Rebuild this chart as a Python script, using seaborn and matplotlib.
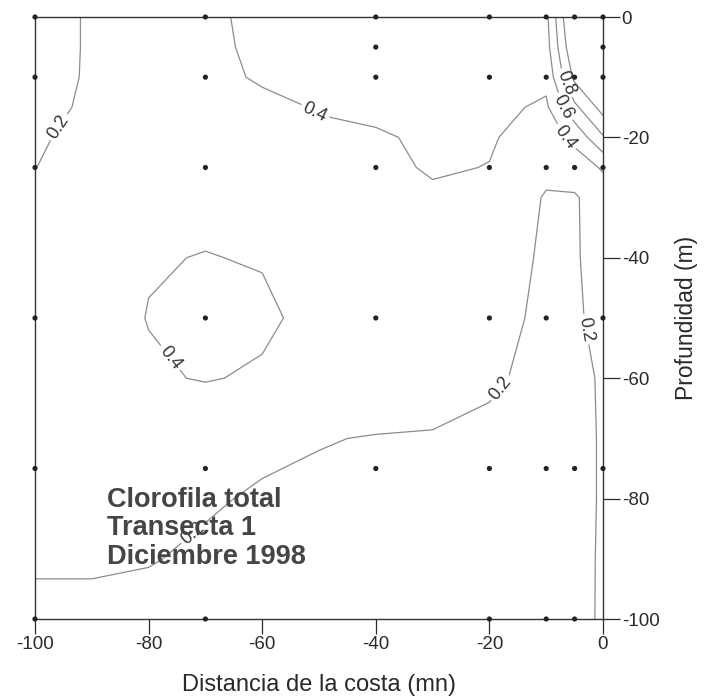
import numpy as np
import pandas as pd
import matplotlib
matplotlib.use("Agg")
import matplotlib.pyplot as plt
import seaborn as sns

# grid nodes used for the contouring (distance from coast in mn, depth in m)
grid_dist = [-100, -90, -80, -70, -60, -50, -40, -30, -20, -10, -5, 0]
grid_depth = [0, -5, -10, -15, -20, -25, -30, -40, -50, -60, -70, -80, -90, -100]

# total chlorophyll, one row per depth, columns follow grid_dist
chl = [
    [0.12, 0.22, 0.28, 0.36, 0.45, 0.50, 0.55, 0.55, 0.50, 0.55, 1.30, 1.20],    # 0 m
    [0.12, 0.22, 0.28, 0.355, 0.44, 0.49, 0.54, 0.55, 0.50, 0.52, 1.20, 1.15],   # 5 m
    [0.13, 0.22, 0.28, 0.35, 0.42, 0.46, 0.50, 0.52, 0.48, 0.45, 1.05, 1.10],    # 10 m
    [0.15, 0.227, 0.29, 0.33, 0.36, 0.41, 0.44, 0.48, 0.45, 0.37, 0.75, 1.08],   # 15 m
    [0.18, 0.247, 0.30, 0.32, 0.34, 0.37, 0.38, 0.43, 0.42, 0.30, 0.45, 0.78],   # 20 m
    [0.198, 0.26, 0.31, 0.33, 0.34, 0.35, 0.35, 0.42, 0.395, 0.23, 0.30, 0.42],  # 25 m
    [0.23, 0.28, 0.33, 0.36, 0.35, 0.35, 0.33, 0.37, 0.30, 0.19, 0.18, 0.30],    # 30 m
    [0.27, 0.31, 0.39, 0.405, 0.39, 0.35, 0.33, 0.32, 0.27, 0.18, 0.18, 0.28],   # 40 m
    [0.30, 0.33, 0.405, 0.46, 0.43, 0.35, 0.32, 0.30, 0.25, 0.17, 0.17, 0.26],   # 50 m
    [0.30, 0.32, 0.38, 0.41, 0.38, 0.30, 0.27, 0.26, 0.22, 0.16, 0.15, 0.22],    # 60 m
    [0.27, 0.28, 0.30, 0.26, 0.22, 0.205, 0.195, 0.19, 0.17, 0.12, 0.10, 0.23],  # 70 m
    [0.24, 0.24, 0.24, 0.21, 0.19, 0.18, 0.17, 0.17, 0.16, 0.12, 0.10, 0.23],    # 80 m
    [0.21, 0.21, 0.205, 0.185, 0.18, 0.17, 0.16, 0.16, 0.16, 0.12, 0.12, 0.23],  # 90 m
    [0.18, 0.18, 0.17, 0.16, 0.17, 0.16, 0.15, 0.15, 0.16, 0.12, 0.15, 0.22],    # 100 m
]
levels = [0.2, 0.4, 0.6, 0.8, 1.0]

# sampling stations
station_dist = [-100, -70, -40, -20, -10, -5, 0]
station_depths = [
    [0, -10, -25, -50, -75, -100],
    [0, -10, -25, -50, -75, -100],
    [0, -5, -10, -25, -50, -75],
    [0, -10, -25, -50, -75, -100],
    [0, -10, -25, -50, -75, -100],
    [0, -10, -25, -75, -100],
    [0, -5, -10, -25, -50, -75],
]

x_ticks = [-100, -80, -60, -40, -20, 0]
y_ticks = [0, -20, -40, -60, -80, -100]

# where the contour labels sit
label_spots = [(-94.7, -19), (-50.5, -15.5), (-76, -56.5), (-71.5, -86.5),
               (-17.5, -62), (-3.8, -52), (-6.6, -11), (-7.0, -15), (-6.7, -20)]

sns.set_theme(style="white")
plt.rcParams["font.family"] = ["Liberation Sans", "DejaVu Sans"]
plt.rcParams["axes.unicode_minus"] = False

stations = pd.DataFrame(
    [(d, z) for d, zs in zip(station_dist, station_depths) for z in zs],
    columns=["dist", "depth"],
)

fig = plt.figure(figsize=(7.16, 6.98), dpi=100)
ax = fig.add_axes([35 / 716, 1 - 619 / 698, 568 / 716, 602 / 698])

cs = ax.contour(grid_dist, grid_depth, np.array(chl), levels=levels,
                colors="#8c8c8c", linewidths=0.9)
ax.clabel(cs, fmt="%.1f", fontsize=13, colors="#333333",
          manual=label_spots, inline=True, inline_spacing=3)

sns.scatterplot(data=stations, x="dist", y="depth", ax=ax, s=14,
                color="#222222", edgecolor="none", clip_on=False, zorder=4)

ax.text(-87.3, -78.0, "Clorofila total\nTransecta 1\nDiciembre 1998",
        fontsize=19.5, fontweight="bold", color="#454545", ha="left", va="top",
        linespacing=1.13, zorder=5)

ax.set_xlim(-100, 0)
ax.set_ylim(-100, 0)
ax.set_xticks(x_ticks)
ax.set_yticks(y_ticks)
ax.yaxis.tick_right()
ax.yaxis.set_label_position("right")
ax.tick_params(axis="x", direction="out", length=10.5, width=0.9, pad=2,
               labelsize=13.5, colors="#2a2a2a", bottom=True)
ax.tick_params(axis="y", direction="out", length=12, width=0.9, pad=1.5,
               labelsize=13.5, colors="#2a2a2a", right=True, left=False)
ax.set_xlabel("Distancia de la costa (mn)", fontsize=17, color="#2a2a2a", labelpad=15)
ax.set_ylabel("Profundidad (m)", fontsize=16.5, color="#2a2a2a", labelpad=11)
for sp in ax.spines.values():
    sp.set_color("#333333")
    sp.set_linewidth(1.0)

fig.savefig("out.png", dpi=100)
